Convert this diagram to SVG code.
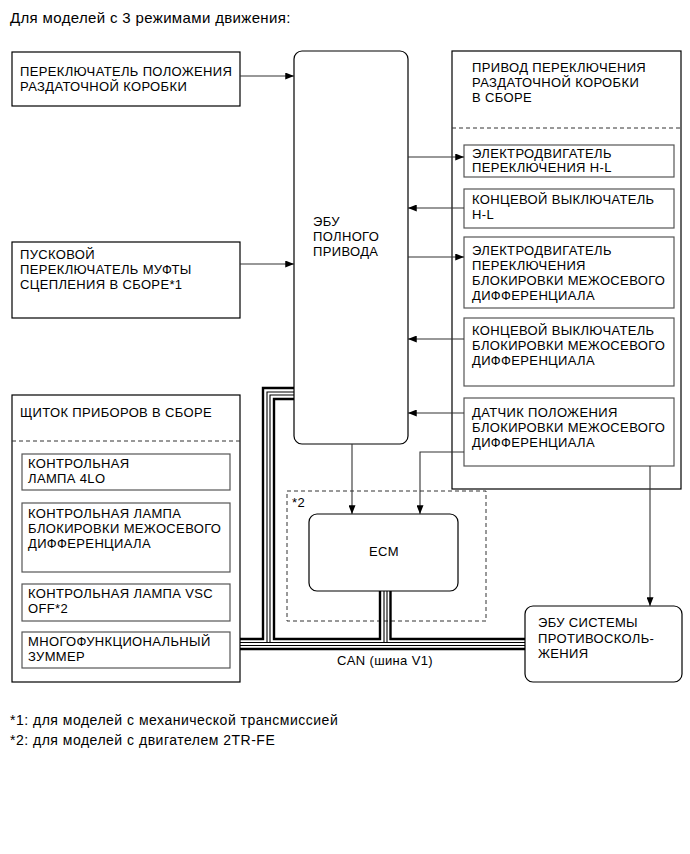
<svg xmlns="http://www.w3.org/2000/svg" width="690" height="854" viewBox="0 0 690 854">
<style>
text{font-family:"Liberation Sans",Arial,sans-serif;font-size:13px;letter-spacing:0.35px;fill:#000}
.title{font-size:15px;letter-spacing:0.35px}
.foot{font-size:14px;letter-spacing:0.5px}
.box{fill:#fff;stroke:#000;stroke-width:1.2}
.inner{fill:#fff;stroke:#555;stroke-width:1.2}
.dash{fill:none;stroke:#333;stroke-width:1;stroke-dasharray:4 3}
.conn{fill:none;stroke:#333;stroke-width:1.1}
.thick{fill:none;stroke:#000;stroke-width:2.4}
.thin{fill:none;stroke:#000;stroke-width:1.1}
</style>
<defs>
<marker id="ah" viewBox="0 0 10 8" refX="10" refY="4" markerWidth="9" markerHeight="7" markerUnits="userSpaceOnUse" orient="auto">
<path d="M0,0 L10,4 L0,8 z" fill="#000"/>
</marker>
</defs>
<rect width="690" height="854" fill="#fff"/>
<text class="title" x="10" y="23">Для моделей с 3 режимами движения:</text>

<g id="transfer-switch">
<rect class="box" x="12" y="52" width="228" height="54"/>
<text x="20" y="76">ПЕРЕКЛЮЧАТЕЛЬ ПОЛОЖЕНИЯ</text>
<text x="20" y="91">РАЗДАТОЧНОЙ КОРОБКИ</text>
</g>

<g id="clutch-switch">
<rect class="box" x="12" y="242" width="228" height="76"/>
<text x="20" y="259">ПУСКОВОЙ</text>
<text x="20" y="274">ПЕРЕКЛЮЧАТЕЛЬ МУФТЫ</text>
<text x="20" y="289">СЦЕПЛЕНИЯ В СБОРЕ*1</text>
</g>

<g id="ecu-4wd">
<rect class="box" x="294" y="51" width="114" height="393" rx="8"/>
<text x="313" y="226">ЭБУ</text>
<text x="313" y="241">ПОЛНОГО</text>
<text x="313" y="256">ПРИВОДА</text>
</g>

<g id="actuator">
<rect class="box" x="452" y="51" width="229" height="438"/>
<text x="472" y="72">ПРИВОД ПЕРЕКЛЮЧЕНИЯ</text>
<text x="472" y="87">РАЗДАТОЧНОЙ КОРОБКИ</text>
<text x="472" y="102">В СБОРЕ</text>
<line class="dash" x1="452" y1="128" x2="681" y2="128"/>
</g>
<g id="hl-motor">
<rect class="inner" x="464" y="145" width="210" height="32"/>
<text x="472" y="158">ЭЛЕКТРОДВИГАТЕЛЬ</text>
<text x="472" y="172">ПЕРЕКЛЮЧЕНИЯ H-L</text>
</g>
<g id="hl-switch">
<rect class="inner" x="464" y="189" width="210" height="39"/>
<text x="472" y="204">КОНЦЕВОЙ ВЫКЛЮЧАТЕЛЬ</text>
<text x="472" y="219">H-L</text>
</g>
<g id="diff-motor">
<rect class="inner" x="464" y="237" width="210" height="71"/>
<text x="472" y="255">ЭЛЕКТРОДВИГАТЕЛЬ</text>
<text x="472" y="270">ПЕРЕКЛЮЧЕНИЯ</text>
<text x="472" y="285">БЛОКИРОВКИ МЕЖОСЕВОГО</text>
<text x="472" y="300">ДИФФЕРЕНЦИАЛА</text>
</g>
<g id="diff-switch">
<rect class="inner" x="464" y="318" width="210" height="68"/>
<text x="472" y="335">КОНЦЕВОЙ ВЫКЛЮЧАТЕЛЬ</text>
<text x="472" y="350">БЛОКИРОВКИ МЕЖОСЕВОГО</text>
<text x="472" y="365">ДИФФЕРЕНЦИАЛА</text>
</g>
<g id="diff-sensor">
<rect class="inner" x="464" y="398" width="210" height="68"/>
<text x="472" y="417">ДАТЧИК ПОЛОЖЕНИЯ</text>
<text x="472" y="432">БЛОКИРОВКИ МЕЖОСЕВОГО</text>
<text x="472" y="447">ДИФФЕРЕНЦИАЛА</text>
</g>

<g id="combination-meter">
<rect class="box" x="12" y="395" width="228" height="287"/>
<text x="20" y="417">ЩИТОК ПРИБОРОВ В СБОРЕ</text>
<line class="dash" x1="12" y1="441" x2="240" y2="441"/>
</g>
<g id="lamp-4lo">
<rect class="inner" x="22" y="454" width="208" height="36"/>
<text x="28" y="468">КОНТРОЛЬНАЯ</text>
<text x="28" y="483">ЛАМПА 4LO</text>
</g>
<g id="lamp-diff">
<rect class="inner" x="22" y="503" width="208" height="69"/>
<text x="28" y="518">КОНТРОЛЬНАЯ ЛАМПА</text>
<text x="28" y="533">БЛОКИРОВКИ МЕЖОСЕВОГО</text>
<text x="28" y="548">ДИФФЕРЕНЦИАЛА</text>
</g>
<g id="lamp-vsc">
<rect class="inner" x="22" y="584" width="208" height="37"/>
<text x="28" y="598">КОНТРОЛЬНАЯ ЛАМПА VSC</text>
<text x="28" y="613">OFF*2</text>
</g>
<g id="buzzer">
<rect class="inner" x="22" y="632" width="208" height="36"/>
<text x="28" y="646">МНОГОФУНКЦИОНАЛЬНЫЙ</text>
<text x="28" y="661">ЗУММЕР</text>
</g>

<g id="ecm-group">
<rect class="dash" x="287" y="491" width="199" height="130"/>
<text x="292" y="507">*2</text>
</g>
<g id="ecm">
<rect class="box" x="309" y="514" width="149" height="77" rx="8"/>
<text x="384" y="556" text-anchor="middle">ECM</text>
</g>

<g id="skid-control-ecu">
<rect class="box" x="525" y="606" width="157" height="76" rx="8"/>
<text x="538" y="627">ЭБУ СИСТЕМЫ</text>
<text x="538" y="643">ПРОТИВОСКОЛЬ-</text>
<text x="538" y="658">ЖЕНИЯ</text>
</g>

<g id="connectors">
<path class="conn" d="M240,76 H294" marker-end="url(#ah)"/>
<path class="conn" d="M240,264 H294" marker-end="url(#ah)"/>
<path class="conn" d="M408,157 H464" marker-end="url(#ah)"/>
<path class="conn" d="M464,208 H408" marker-end="url(#ah)"/>
<path class="conn" d="M408,257 H464" marker-end="url(#ah)"/>
<path class="conn" d="M464,339 H408" marker-end="url(#ah)"/>
<path class="conn" d="M464,413 H408" marker-end="url(#ah)"/>
<path class="conn" d="M464,452 H420 V514" marker-end="url(#ah)"/>
<path class="conn" d="M352,444 V514" marker-end="url(#ah)"/>
<path class="conn" d="M650,466 V606" marker-end="url(#ah)"/>
</g>

<g id="can-bus">
<path class="thick" d="M294,388 H263 V639 H240"/>
<path class="thin" d="M294,392 H267 V642.5"/>
<path class="thin" d="M294,395 H270 V642.5"/>
<path class="thick" d="M294,399 H274 V639 H380 V591"/>
<path class="thin" d="M384,591 V642.5"/>
<path class="thin" d="M387,591 V642.5"/>
<path class="thick" d="M390.5,591 V639 H525"/>
<path class="thin" d="M240,642.5 H525"/>
<path class="thin" d="M240,645.5 H525"/>
<path class="thick" d="M240,649 H525"/>
<text x="385" y="665" text-anchor="middle">CAN (шина V1)</text>
</g>

<text class="foot" x="10" y="725">*1: для моделей с механической трансмиссией</text>
<text class="foot" x="10" y="745">*2: для моделей с двигателем 2TR-FE</text>
</svg>
